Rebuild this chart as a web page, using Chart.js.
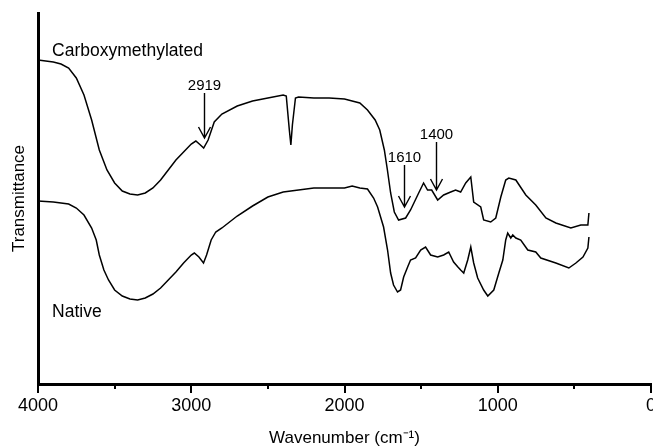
<!DOCTYPE html>
<html>
<head>
<meta charset="utf-8">
<script src="https://cdn.jsdelivr.net/npm/chart.js@4"></script>
<style>
  html, body { margin: 0; padding: 0; background: #fff; }
  #wrap { width: 653px; height: 447px; }
</style>
</head>
<body>
<div id="wrap"><canvas id="ftir"></canvas></div>
<script>
// FTIR spectra (arbitrary transmittance units)
const carboxyWn = [4000, 3900, 3850, 3800, 3750, 3700, 3650, 3600, 3550, 3500, 3450, 3400, 3350, 3300, 3250,
    3200, 3150, 3100, 3050, 3000, 2970, 2940, 2919, 2890, 2850, 2800, 2700, 2600, 2500, 2400, 2380,
    2360, 2350, 2340, 2320, 2300, 2200, 2100, 2000, 1950, 1900, 1850, 1800, 1770, 1740, 1720, 1699,
    1675, 1647, 1601, 1569, 1516, 1484, 1458, 1431, 1392, 1353, 1307, 1275, 1242, 1209, 1176, 1157,
    1111, 1092, 1046, 1013, 980, 948, 928, 882, 817, 752, 686, 621, 523, 458, 412, 405];
const carboxyT = [324, 322, 320, 316, 306, 289, 264, 234, 214, 201, 193, 190, 189, 191, 196,
    204, 214, 224, 232, 240, 243, 239, 236, 244, 262, 270, 278, 283, 286, 289, 288,
    254, 239, 259, 286, 287, 286, 286, 285, 283, 281, 274, 264, 254, 234, 214, 191,
    172, 164, 166, 174, 191, 201, 194, 194, 184, 189, 192, 194, 192, 201, 207, 182,
    177, 164, 162, 166, 187, 204, 206, 204, 189, 179, 166, 161, 156, 159, 159, 171];

const nativeWn = [4000, 3900, 3800, 3750, 3700, 3650, 3620, 3600, 3570, 3540, 3500, 3450, 3400, 3350, 3300,
    3250, 3200, 3150, 3100, 3050, 3000, 2980, 2950, 2920, 2900, 2870, 2840, 2800, 2700, 2600, 2500,
    2400, 2300, 2200, 2100, 2000, 1950, 1900, 1850, 1810, 1784, 1745, 1719, 1699, 1680, 1654, 1634,
    1614, 1588, 1569, 1536, 1503, 1471, 1438, 1392, 1353, 1320, 1288, 1260, 1242, 1222, 1196, 1176,
    1157, 1131, 1092, 1065, 1026, 993, 967, 948, 935, 915, 902, 882, 850, 804, 752, 719, 621,
    536, 490, 444, 412, 405];
const nativeT = [183, 182, 180, 176, 169, 156, 144, 129, 114, 104, 94, 88, 85, 84, 86,
    90, 96, 104, 112, 121, 129, 131, 127, 121, 129, 144, 152, 156, 168, 178, 187,
    192, 194, 196, 196, 196, 198, 196, 195, 186, 177, 157, 134, 111, 99, 92, 94,
    107, 117, 124, 126, 134, 137, 129, 127, 129, 132, 122, 117, 114, 111, 124, 137,
    121, 106, 94, 88, 94, 111, 124, 144, 151, 146, 149, 146, 144, 134, 132, 126, 121,
    116, 121, 127, 136, 147];

const xTicks = [4000, 3000, 2000, 1000, 0];
const xMinorTicks = [3500, 2500, 1500, 500];
const peakLabels = ['2919', '1610', '1400'];
const peakWn = [2919, 1610, 1400];

function toPoints(xs, ys) {
    return xs.map((x, i) => ({ x: x, y: ys[i] }));
}

const FONT = "'Liberation Sans', Arial, sans-serif";

// text labels, arrows and short minor ticks, placed in data coordinates
const annotations = {
    id: 'annotations',
    afterDraw(chart) {
        const c = chart.ctx;
        const xs = chart.scales.x;
        const ys = chart.scales.y;
        c.save();
        c.fillStyle = '#000';
        c.strokeStyle = '#000';
        c.textBaseline = 'middle';

        c.font = '17.5px ' + FONT;
        c.textAlign = 'left';
        c.fillText('Carboxymethylated', xs.getPixelForValue(3908), ys.getPixelForValue(333));
        c.fillText('Native', xs.getPixelForValue(3908), ys.getPixelForValue(72));

        // [label y, arrow top, arrow tip] for each peak
        const place = [[298, 291, 246], [226, 219, 177], [249, 242, 194]];
        c.font = '15px ' + FONT;
        c.textAlign = 'center';
        c.lineWidth = 1.4;
        peakWn.forEach((wn, i) => {
            const px = Math.round(xs.getPixelForValue(wn)) + 0.5;
            const [ly, a0, a1] = place[i];
            c.fillText(peakLabels[i], px, ys.getPixelForValue(ly));
            const y0 = ys.getPixelForValue(a0);
            const y1 = ys.getPixelForValue(a1);
            c.beginPath();
            c.moveTo(px, y0);
            c.lineTo(px, y1);
            c.moveTo(px - 6, y1 - 11);
            c.lineTo(px, y1);
            c.lineTo(px + 6, y1 - 11);
            c.stroke();
        });

        c.lineWidth = 2;
        xMinorTicks.forEach((v) => {
            const px = Math.round(xs.getPixelForValue(v));
            c.beginPath();
            c.moveTo(px, xs.top);
            c.lineTo(px, xs.top + 5);
            c.stroke();
        });
        c.restore();
    }
};

const ctx = document.getElementById('ftir');

const chart = new Chart(ctx, {
    type: 'line',
    data: {
        datasets: [
            {
                label: 'Carboxymethylated',
                data: toPoints(carboxyWn, carboxyT),
                borderColor: '#000',
                borderWidth: 1.5,
                pointRadius: 0,
                fill: false,
                tension: 0
            },
            {
                label: 'Native',
                data: toPoints(nativeWn, nativeT),
                borderColor: '#000',
                borderWidth: 1.5,
                pointRadius: 0,
                fill: false,
                tension: 0
            }
        ]
    },
    options: {
        responsive: true,
        maintainAspectRatio: false,
        animation: false,
        layout: { padding: { top: 13, right: 2, bottom: 0, left: 0 } },
        plugins: {
            legend: { display: false },
            tooltip: { enabled: false }
        },
        scales: {
            x: {
                type: 'linear',
                reverse: true,
                min: 0,
                max: 4000,
                afterFit(scale) {
                    scale.height = 63;
                    scale.paddingLeft = 0;
                    scale.paddingRight = 0;
                },
                afterBuildTicks(scale) {
                    scale.ticks = xTicks.map((v) => ({ value: v }));
                },
                ticks: {
                    autoSkip: false,
                    maxRotation: 0,
                    padding: 2,
                    color: '#000',
                    font: { family: FONT, size: 18 },
                    callback: (v) => String(v)
                },
                grid: {
                    drawOnChartArea: false,
                    drawTicks: true,
                    tickLength: 9,
                    color: '#000',
                    lineWidth: 2
                },
                border: { display: true, color: '#000', width: 3 },
                title: {
                    display: true,
                    text: 'Wavenumber (cm\u207B\u00B9)',
                    color: '#000',
                    font: { family: FONT, size: 17 },
                    padding: { top: 0, bottom: -2 }
                }
            },
            y: {
                min: 0,
                max: 371,
                afterFit(scale) { scale.width = 38; },
                ticks: { display: false },
                grid: { display: false },
                border: { display: true, color: '#000', width: 3 },
                title: {
                    display: true,
                    text: 'Transmittance',
                    color: '#000',
                    font: { family: FONT, size: 17 },
                    padding: { top: 9, bottom: 0 }
                }
            }
        }
    },
    plugins: [annotations]
});
</script>
</body>
</html>
